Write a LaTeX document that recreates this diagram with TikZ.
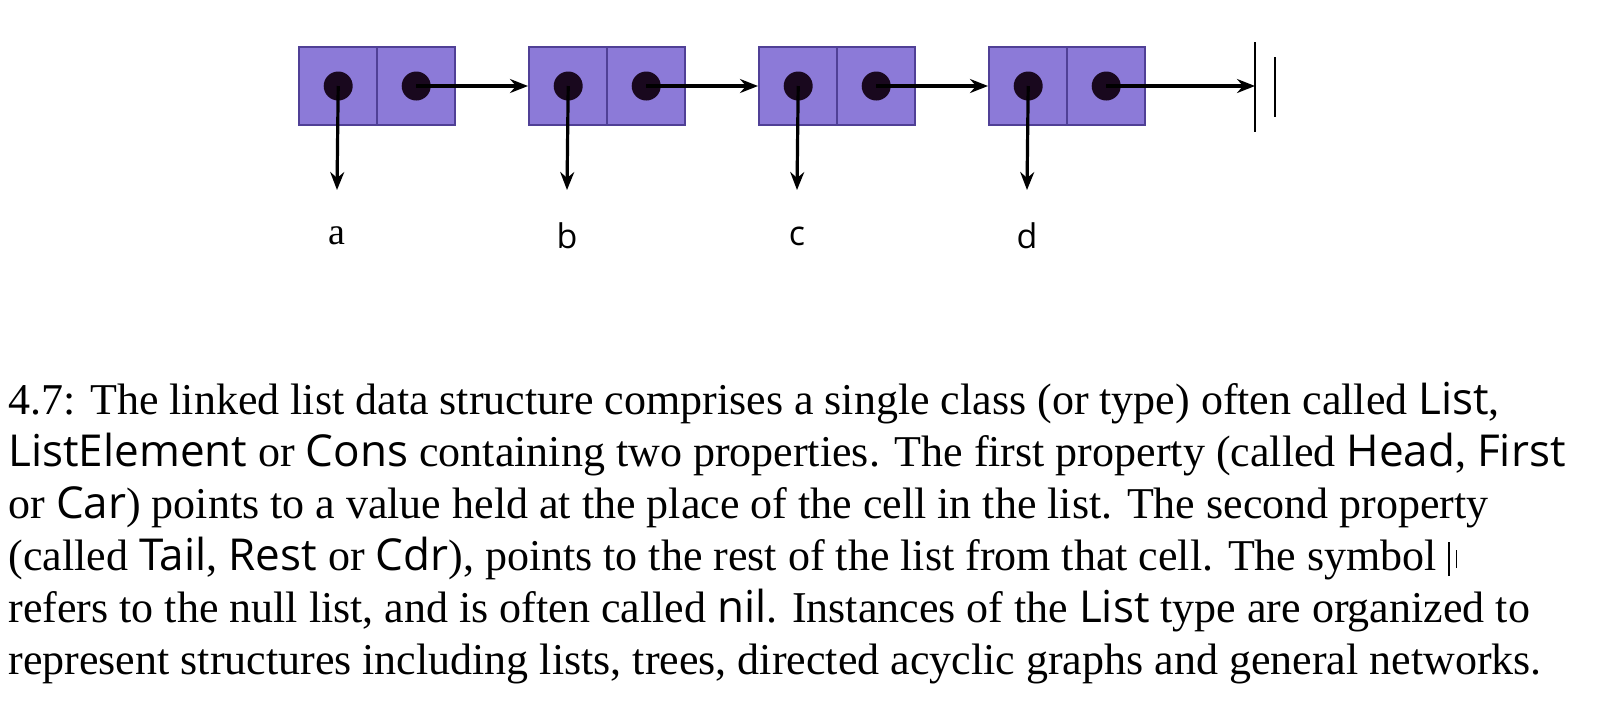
\documentclass[tikz,border=0pt]{standalone}
\usepackage{fontspec}
\setmainfont{Liberation Serif}
\setsansfont{Open Sans}
\usetikzlibrary{calc,arrows.meta}
\definecolor{cellfill}{RGB}{140,122,216}
\definecolor{celldraw}{RGB}{80,64,150}
\definecolor{dotcol}{RGB}{25,8,30}
\newcommand{\code}[1]{\textsf{#1}}
\tikzset{
    half/.style={draw=celldraw, fill=cellfill, line width=1.2pt, minimum width=39pt, minimum height=39pt, inner sep=0pt, anchor=west},
    dot/.style={circle, fill=dotcol, minimum size=14.5pt, inner sep=0pt},
    ptr/.style={-{Stealth[length=9pt,width=7pt,inset=3pt]}, line width=1.6pt},
    val/.style={font=\sffamily\fontsize{17}{20}\selectfont},
    capline/.style={anchor=base west, inner sep=0pt, font=\fontsize{22}{26}\selectfont}
}
\begin{document}
\begin{tikzpicture}[x=0.5pt,y=-0.5pt]
    \useasboundingbox (0,0) rectangle (1600,709);
    % cells
    \node[half] (a1) at (298,86) {};
    \node[half] (a2) at (376,86) {};
    \node[half] (b1) at (528,86) {};
    \node[half] (b2) at (606,86) {};
    \node[half] (c1) at (758,86) {};
    \node[half] (c2) at (836,86) {};
    \node[half] (d1) at (988,86) {};
    \node[half] (d2) at (1066,86) {};
    % pointers
    \node[dot] (pa1) at (a1) {};
    \node[dot] (pa2) at (a2) {};
    \node[dot] (pb1) at (b1) {};
    \node[dot] (pb2) at (b2) {};
    \node[dot] (pc1) at (c1) {};
    \node[dot] (pc2) at (c2) {};
    \node[dot] (pd1) at (d1) {};
    \node[dot] (pd2) at (d2) {};
    % values
    \node[val, font=\rmfamily\fontsize{19}{20}\selectfont] (va) at (337,236) {a};
    \node[val] (vb) at (567,236) {b};
    \node[val] (vc) at (797,236) {c};
    \node[val] (vd) at (1027,236) {d};
    \coordinate (na) at (337,190);
    \coordinate (nb) at (567,190);
    \coordinate (nc) at (797,190);
    \coordinate (nd) at (1027,190);
    \draw[ptr] (pa1.center) -- (na);
    \draw[ptr] (pb1.center) -- (nb);
    \draw[ptr] (pc1.center) -- (nc);
    \draw[ptr] (pd1.center) -- (nd);
    \draw[ptr] (pa2.center) -- (b1.west);
    \draw[ptr] (pb2.center) -- (c1.west);
    \draw[ptr] (pc2.center) -- (d1.west);
    % nil
    \coordinate (nil) at (1255,86);
    \draw[ptr] (pd2.center) -- (nil);
    \draw[line width=1.3pt] ($(nil)+(0,-44)$) -- ($(nil)+(0,46)$);
    \draw[line width=1.3pt] ($(nil)+(20,-29)$) -- ($(nil)+(20,31)$);
    % caption
    \node[capline] (l1) at (8,414) {4.7: The linked list data structure comprises a single class (or type) often called \code{List},};
    \node[capline] (l2) at (8,466) {\code{ListElement} or \code{Cons} containing two properties. The first property (called \code{Head}, \code{First}};
    \node[capline] (l3) at (8,518) {or \code{Car}) points to a value held at the place of the cell in the list. The second property};
    \node[capline] (l4) at (8,570) {(called \code{Tail}, \code{Rest} or \code{Cdr}), points to the rest of the list from that cell. The symbol \rule[-3pt]{0.8pt}{17pt}\hspace{3pt}\rule[1pt]{0.8pt}{9pt}};
    \node[capline] (l5) at (8,622) {refers to the null list, and is often called \code{nil}. Instances of the \code{List} type are organized to};
    \node[capline] (l6) at (8,674) {represent structures including lists, trees, directed acyclic graphs and general networks.};
\end{tikzpicture}
\end{document}
